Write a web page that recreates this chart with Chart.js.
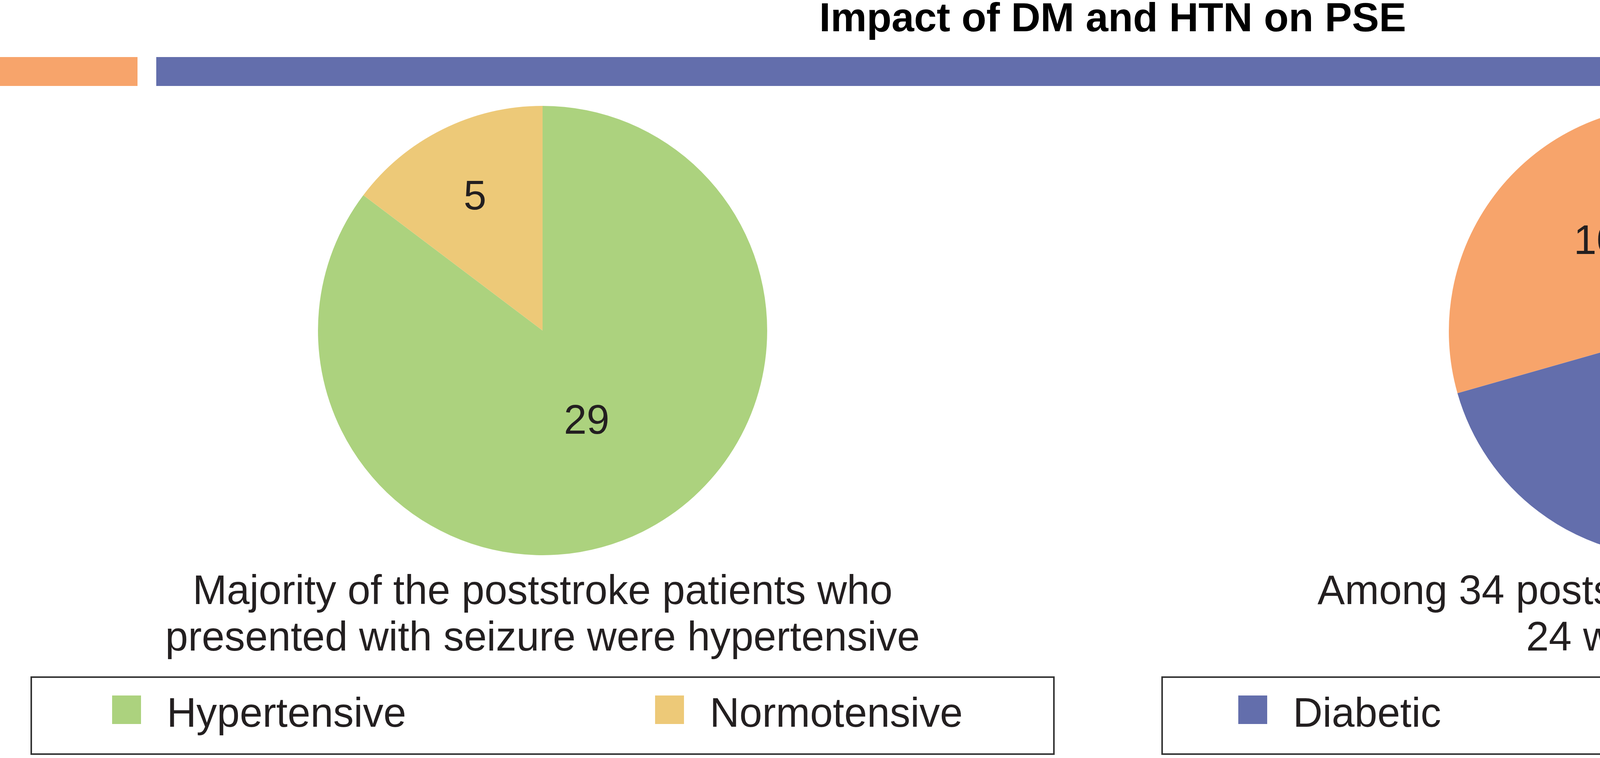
<!DOCTYPE html>
<html>
<head>
<meta charset="utf-8">
<script src="https://cdn.jsdelivr.net/npm/chart.js@4"></script>
<style>
  body { margin: 0; background: #fff; }
  #page { position: relative; width: 5697px; height: 1940px; overflow: hidden; background: #fff;
          font-family: "Liberation Sans", Arial, sans-serif; color: #231f20; }
  .title { position: absolute; left: 0; top: -8px; width: 5697px; text-align: center;
           font-size: 104px; line-height: 104px; font-weight: bold; color: #000; }
  .bar { position: absolute; top: 146px; height: 74px; }
  .pie { position: absolute; width: 1200px; height: 1200px; }
  .caption { position: absolute; top: 1450px; width: 2200px; text-align: center;
             font-size: 105px; line-height: 119px; }
  .legend { position: absolute; top: 1731px; height: 201px; box-sizing: border-box;
            border: 4px solid #333; }
  .legend .item { position: absolute; top: 0; }
  .legend .sw { position: absolute; top: 45px; width: 74px; height: 73px; }
  .legend .txt { position: absolute; left: 140px; top: 36px; font-size: 105px; line-height: 105px; white-space: nowrap; }
</style>
</head>
<body>
<div id="page">
  <div class="title">Impact of DM and HTN on PSE</div>
  <div class="bar" style="left:0;width:352px;background:#f7a46b"></div>
  <div class="bar" style="left:400px;width:5292px;background:#636eac"></div>

  <div class="pie" style="left:789px;top:246px"><canvas id="pieLeft"></canvas></div>
  <div class="pie" style="left:3687px;top:248px"><canvas id="pieRight"></canvas></div>

  <div class="caption" style="left:289px">Majority of the poststroke patients who<br>presented with seizure were hypertensive</div>
  <div class="caption" style="left:3189px">Among 34 poststroke epilepsy patients,<br>24 were diabetic</div>

  <div class="legend" id="legendLeft" style="left:78px;width:2622px"></div>
  <div class="legend" id="legendRight" style="left:2973px;width:2627px"></div>
</div>
<script>
(function () {
    'use strict'

    // data
    var leftLabels = ['Hypertensive', 'Normotensive']
    var leftValues = [29, 5]
    var rightLabels = ['Diabetic', 'Nondiabetic']
    var rightValues = [24, 10]

    var leftColors = ['#acd27e', '#edc978']
    var rightColors = ['#636eac', '#f7a46b']

    // numbers drawn inside the slices
    var valueLabels = {
        id: 'valueLabels',
        afterDatasetsDraw: function (chart, args, opts) {
            var ctx = chart.ctx
            var meta = chart.getDatasetMeta(0)
            var data = chart.data.datasets[0].data
            ctx.save()
            ctx.font = '105px "Liberation Sans", Arial, sans-serif'
            ctx.textAlign = 'center'
            ctx.textBaseline = 'alphabetic'
            meta.data.forEach(function (arc, i) {
                var p = arc.getProps(['x', 'y', 'startAngle', 'endAngle', 'outerRadius'], true)
                var a = (p.startAngle + p.endAngle) / 2 + opts.turn[i] * Math.PI / 180
                var r = p.outerRadius * opts.dist[i]
                ctx.fillStyle = opts.colors[i]
                ctx.fillText(String(data[i]), p.x + Math.cos(a) * r, p.y + Math.sin(a) * r + 0.358 * 105)
            })
            ctx.restore()
        }
    }

    function makePie(id, labels, values, colors, pad, labelOpts) {
        return new Chart(document.getElementById(id), {
            type: 'pie',
            data: {
                labels: labels,
                datasets: [{
                    data: values,
                    backgroundColor: colors,
                    borderWidth: 0
                }]
            },
            options: {
                responsive: true,
                maintainAspectRatio: false,
                animation: false,
                layout: { padding: pad },
                plugins: {
                    legend: { display: false },
                    tooltip: { enabled: false },
                    valueLabels: labelOpts
                }
            },
            plugins: [valueLabels]
        })
    }

    // legend boxes below each pie, built from the chart's own legend items
    function htmlLegend(chart, boxId, lefts) {
        var box = document.getElementById(boxId)
        var items = chart.options.plugins.legend.labels.generateLabels(chart)
        items.forEach(function (it, i) {
            var item = document.createElement('div')
            item.className = 'item'
            item.style.left = lefts[i] + 'px'
            var sw = document.createElement('span')
            sw.className = 'sw'
            sw.style.background = it.fillStyle
            var txt = document.createElement('span')
            txt.className = 'txt'
            txt.textContent = it.text
            item.appendChild(sw)
            item.appendChild(txt)
            box.appendChild(item)
        })
    }

    var left = makePie('pieLeft', leftLabels, leftValues, leftColors, 25,
        { dist: [0.44, 0.675], turn: [0, 0], colors: ['#231f20', '#231f20'] })
    var right = makePie('pieRight', rightLabels, rightValues, rightColors, 22,
        { dist: [0.6, 0.535], turn: [8.6, 12.7], colors: ['#ffffff', '#231f20'] })

    htmlLegend(left, 'legendLeft', [205, 1595])
    htmlLegend(right, 'legendRight', [193, 1585])
})()
</script>
</body>
</html>
